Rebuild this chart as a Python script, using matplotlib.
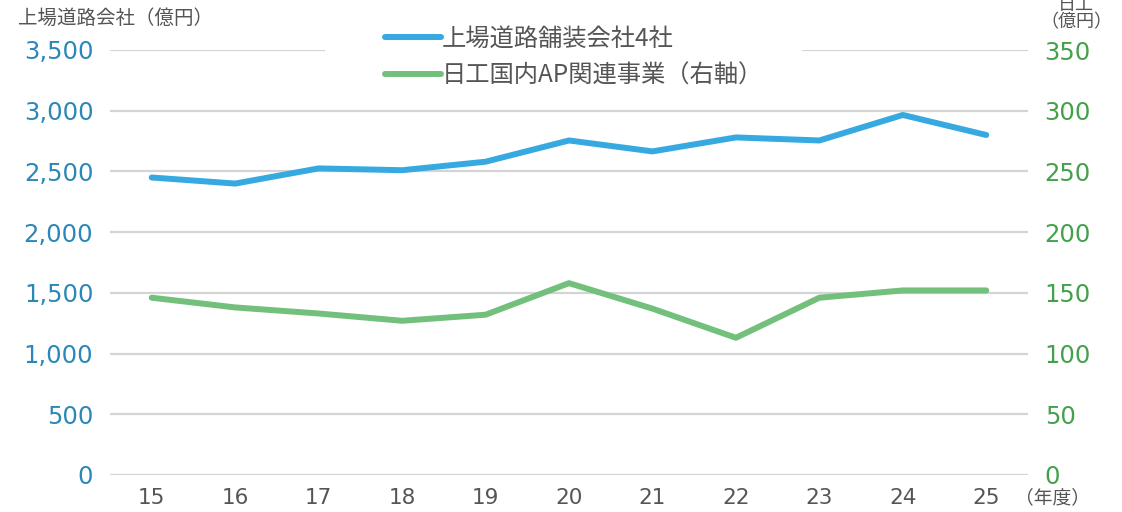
import matplotlib.pyplot as plt
from matplotlib.patches import Rectangle
from matplotlib.ticker import FuncFormatter

plt.rcParams['font.family'] = ['Noto Sans CJK JP', 'DejaVu Sans']

# fiscal years
years = [15, 16, 17, 18, 19, 20, 21, 22, 23, 24, 25]
# listed road paving companies (4 cos), 100M yen, left axis
road4 = [2450, 2400, 2525, 2510, 2580, 2755, 2665, 2780, 2755, 2965, 2800]
# Nikko domestic AP business, 100M yen, right axis
nikko_ap = [146, 138, 133, 127, 132, 158, 137, 113, 146, 152, 152]

blue = '#36a9e1'
green = '#72c07c'
grey = '#555555'
W, H = 1122, 512

fig = plt.figure(figsize=(W / 100, H / 100), dpi=100)
ax = fig.add_axes([110 / W, 1 - 475 / H, 918 / W, 425 / H])
ax2 = ax.twinx()

l1, = ax.plot(years, road4, color=blue, lw=4.3, solid_capstyle='round', zorder=3)
l2, = ax2.plot(years, nikko_ap, color=green, lw=4.3, solid_capstyle='round', zorder=3)

ax.set_xlim(14.5, 25.5)
ax.set_ylim(0, 3500)
ax2.set_ylim(0, 350)
ax.set_yticks(range(0, 3501, 500))
ax2.set_yticks(range(0, 351, 50))
ax.set_xticks(years)
ax.yaxis.set_major_formatter(FuncFormatter(lambda v, p: f'{int(v):,}'))

ax.grid(axis='y', color='#d4d4d4', lw=1.6)
ax.set_axisbelow(True)
for a in (ax, ax2):
    for s in a.spines.values():
        s.set_visible(False)
    a.tick_params(length=0)

ax.tick_params(axis='y', labelcolor='#2a87b8', labelsize=17.5, pad=12)
ax2.tick_params(axis='y', labelcolor='#43a04b', labelsize=17.5, pad=12)
ax.tick_params(axis='x', labelcolor=grey, labelsize=15.5, pad=9)
for lab in ax.get_yticklabels() + ax2.get_yticklabels() + ax.get_xticklabels():
    lab.set_family('DejaVu Sans')

fig.text(18 / W, 1 - 18 / H, '上場道路会社（億円）', color=grey, fontsize=14, va='center', ha='left')
fig.text(1076 / W, 1 - 14 / H, '日工\n（億円）', color=grey, fontsize=13, va='center', ha='center', linespacing=0.95)
fig.text(1052 / W, 1 - 498 / H, '（年度）', color=grey, fontsize=13.5, va='center', ha='center')

# white box behind the legend hides the top gridline there
fig.patches.append(Rectangle((325 / W, 1 - 95 / H), 477 / W, 70 / H, transform=fig.transFigure,
                             facecolor='white', edgecolor='none', zorder=1))
leg = fig.legend([l1, l2], ['上場道路舗装会社4社', '日工国内AP関連事業（右軸）'],
                 loc='upper left', bbox_to_anchor=(385 / W, 1 - 26 / H), borderaxespad=0,
                 frameon=False, fontsize=17.5, labelcolor=grey, handlelength=2.3,
                 handletextpad=0.05, labelspacing=0.42, borderpad=0)
leg.set_zorder(2)

fig.savefig('out.png', dpi=100)
